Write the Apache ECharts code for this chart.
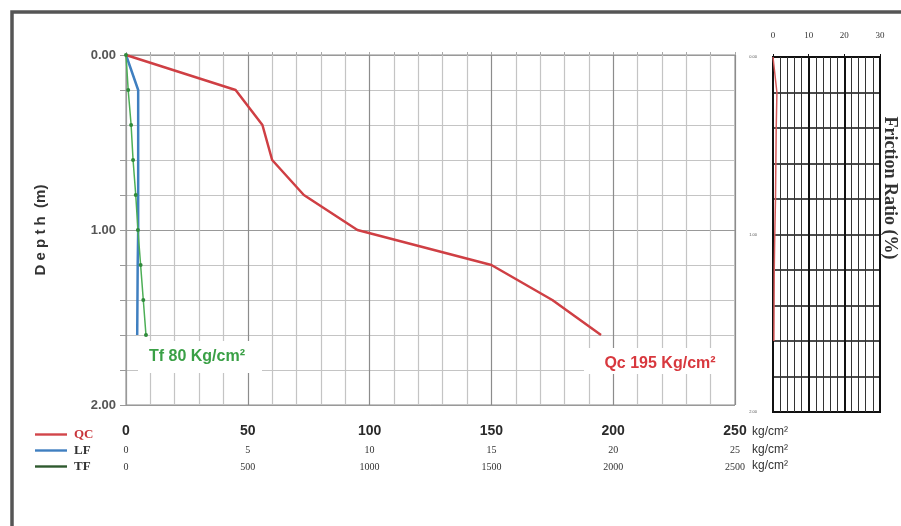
<!DOCTYPE html>
<html>
<head>
<meta charset="utf-8">
<script src="https://cdn.jsdelivr.net/npm/echarts@6/dist/echarts.min.js"></script>
<style>
html,body{margin:0;padding:0;background:#fff;}
#c{width:901px;height:526px;}
</style>
</head>
<body>
<div id="c"></div>
<script>
// ---- data ----
const depth = [0, 0.2, 0.4, 0.6, 0.8, 1.0, 1.2, 1.4, 1.6];
const qcValues = [0, 45, 56, 60, 73, 95, 150, 175, 195];      // kg/cm2 (0-250 scale)
const lfValues = [0, 0.5, 0.5, 0.5, 0.5, 0.5, 0.48, 0.47, 0.46]; // kg/cm2 (0-25 scale)
const tfValues = [0, 9, 21, 29, 40, 49, 60, 71, 82];           // kg/cm2 (0-2500 scale)
const frValues = [0, 1.1, 0.9, 0.8, 0.7, 0.5, 0.35, 0.3, 0.25]; // %
const qcTicks = [0, 50, 100, 150, 200, 250];
const lfTicks = [0, 5, 10, 15, 20, 25];
const tfTicks = [0, 500, 1000, 1500, 2000, 2500];
const frTicks = [0, 10, 20, 30];
const depthTicks = [0, 1, 2];

const pairs = (xs) => xs.map((v, i) => [v, depth[i]]);
const isDepthLabel = (v) => depthTicks.some(d => Math.abs(d - v) < 1e-6);
const fmtDepth = (v) => isDepthLabel(v) ? v.toFixed(2) : '';

const chart = echarts.init(document.getElementById('c'));
const sans = 'Liberation Sans';
const serif = 'Liberation Serif';
const lineIcon = 'path://M0,0H40V3H0Z';

const option = {
  animation: false,
  backgroundColor: '#fff',
  legend: {
    orient: 'vertical',
    left: 30, top: 423,
    itemWidth: 32, itemHeight: 3, itemGap: 3,
    textStyle: { fontFamily: serif, fontSize: 13, color: '#333', fontWeight: 'bold', padding: [0, 0, 0, 2] },
    data: [
      { name: 'QC', textStyle: { color: '#c8343a' }, icon: lineIcon, itemStyle: { color: '#d2454a' } },
      { name: 'LF', textStyle: { color: '#333' }, icon: lineIcon, itemStyle: { color: '#3f7fc0' } },
      { name: 'TF', textStyle: { color: '#333' }, icon: lineIcon, itemStyle: { color: '#2e5a2e' } }
    ]
  },
  grid: [
    { left: 126, top: 55, width: 609, height: 350, show: true, borderColor: '#8a8a8a', borderWidth: 1 },
    { left: 773, top: 57, width: 107, height: 355, show: true, borderColor: '#111', borderWidth: 2 }
  ],
  xAxis: [
    { // QC
      gridIndex: 0, type: 'value', position: 'bottom', min: 0, max: 250, interval: 10,
      axisLine: { show: false }, axisTick: { show: false },
      axisLabel: {
        margin: 19, fontFamily: sans, fontSize: 14, color: '#2a2a2a', fontWeight: 'bold',
        formatter: v => qcTicks.includes(v) ? String(v) : ''
      },
      splitLine: { show: true, lineStyle: { color: ['#8c8c8c', '#c4c4c4', '#c4c4c4', '#c4c4c4', '#c4c4c4'], width: 1.2 } }
    },
    { // LF
      gridIndex: 0, type: 'value', position: 'bottom', min: 0, max: 25, interval: 1,
      axisLine: { show: false }, axisTick: { show: false }, splitLine: { show: false },
      axisLabel: {
        margin: 40, fontFamily: serif, fontSize: 10, color: '#333',
        formatter: v => lfTicks.includes(v) ? String(v) : ''
      }
    },
    { // TF
      gridIndex: 0, type: 'value', position: 'bottom', min: 0, max: 2500, interval: 100,
      axisLine: { show: false }, axisTick: { show: false }, splitLine: { show: false },
      axisLabel: {
        margin: 57, fontFamily: serif, fontSize: 10, color: '#333',
        formatter: v => tfTicks.includes(v) ? String(v) : ''
      }
    },
    { // top ticks of main panel
      gridIndex: 0, type: 'value', position: 'top', min: 0, max: 250, interval: 10,
      axisLine: { show: false }, axisLabel: { show: false }, splitLine: { show: false },
      axisTick: { show: true, length: 3, lineStyle: { color: '#aaa' } }
    },
    { // friction ratio
      gridIndex: 1, type: 'value', position: 'top', min: 0, max: 30, interval: 10, splitNumber: 3,
      axisLine: { show: false },
      axisTick: { show: true, length: 3, lineStyle: { color: '#111' } },
      axisLabel: {
        margin: 17, fontFamily: serif, fontSize: 9, color: '#333',
        formatter: v => frTicks.includes(v) ? String(v) : ''
      },
      splitLine: { show: true, lineStyle: { color: '#111', width: 2 } },
      minorTick: { show: false, splitNumber: 5 },
      minorSplitLine: { show: true, lineStyle: { color: '#333', width: 1 } }
    }
  ],
  yAxis: [
    {
      gridIndex: 0, type: 'value', inverse: true, min: 0, max: 2, interval: 0.2,
      name: 'D e p t h  (m)', nameLocation: 'middle', nameGap: 78, nameRotate: 90,
      nameTextStyle: { fontFamily: sans, fontSize: 15, fontWeight: 'bold', color: '#333' },
      axisLine: { show: true, lineStyle: { color: '#999' } },
      axisTick: { show: true, length: 6, interval: (i, v) => isDepthLabel(v), lineStyle: { color: '#999' } },
      axisLabel: { margin: 10, fontFamily: sans, fontSize: 13, fontWeight: 'bold', color: '#555', formatter: fmtDepth },
      splitLine: { show: true, lineStyle: { color: ['#999', '#c4c4c4', '#c4c4c4', '#c4c4c4', '#c4c4c4'], width: 1.2 } }
    },
    {
      gridIndex: 1, type: 'value', inverse: true, min: 0, max: 2, interval: 0.2,
      axisLine: { show: false }, axisTick: { show: false },
      axisLabel: { margin: 16, fontFamily: sans, fontSize: 4, color: '#555', formatter: fmtDepth },
      splitLine: { show: true, lineStyle: { color: '#111', width: 1.5 } }
    }
  ],
  series: [
    {
      name: 'QC', type: 'line', xAxisIndex: 0, yAxisIndex: 0, data: pairs(qcValues),
      symbol: 'none', lineStyle: { color: '#cf3f44', width: 2.5 }, z: 5
    },
    {
      name: 'LF', type: 'line', xAxisIndex: 1, yAxisIndex: 0, data: pairs(lfValues),
      symbol: 'none', lineStyle: { color: '#3f7fc0', width: 2.5 }, z: 4
    },
    {
      name: 'TF', type: 'line', xAxisIndex: 2, yAxisIndex: 0, data: pairs(tfValues),
      symbol: 'circle', symbolSize: 4, itemStyle: { color: '#2f8a3a' },
      lineStyle: { color: '#4cae55', width: 1.5 }, z: 6
    },
    {
      name: 'FR', type: 'line', xAxisIndex: 4, yAxisIndex: 1, data: pairs(frValues),
      symbol: 'none', lineStyle: { color: '#d75a5a', width: 1.5 }, z: 5
    }
  ],
  graphic: [
    { type: 'rect', shape: { x: 12, y: 12, width: 910, height: 530 }, style: { fill: 'none', stroke: '#555', lineWidth: 3.5 }, z: 100 },
    // annotation boxes
    { type: 'rect', shape: { x: 138, y: 341, width: 124, height: 32 }, style: { fill: '#fff' }, z: 50 },
    { type: 'text', x: 197, y: 357, style: { text: 'Tf 80 Kg/cm²', fill: '#3aa046', fontFamily: sans, fontWeight: 'bold', fontSize: 16, align: 'center', verticalAlign: 'middle' }, z: 51 },
    { type: 'rect', shape: { x: 584, y: 348, width: 150, height: 26 }, style: { fill: '#fff' }, z: 50 },
    { type: 'text', x: 660, y: 364, style: { text: 'Qc 195 Kg/cm²', fill: '#d8383e', fontFamily: sans, fontWeight: 'bold', fontSize: 16, align: 'center', verticalAlign: 'middle' }, z: 51 },
    // units
    { type: 'text', x: 752, y: 432, style: { text: 'kg/cm²', fill: '#333', fontFamily: sans, fontSize: 12, verticalAlign: 'middle' } },
    { type: 'text', x: 752, y: 450, style: { text: 'kg/cm²', fill: '#333', fontFamily: sans, fontSize: 12, verticalAlign: 'middle' } },
    { type: 'text', x: 752, y: 466, style: { text: 'kg/cm²', fill: '#333', fontFamily: sans, fontSize: 12, verticalAlign: 'middle' } },
    // friction ratio title
    { type: 'text', x: 890, y: 188, rotation: -Math.PI / 2,
      style: { text: 'Friction Ratio (%)', fill: '#333', fontFamily: serif, fontWeight: 'bold', fontSize: 18, align: 'center', verticalAlign: 'middle' } }
  ]
};
chart.setOption(option);
</script>
</body>
</html>
